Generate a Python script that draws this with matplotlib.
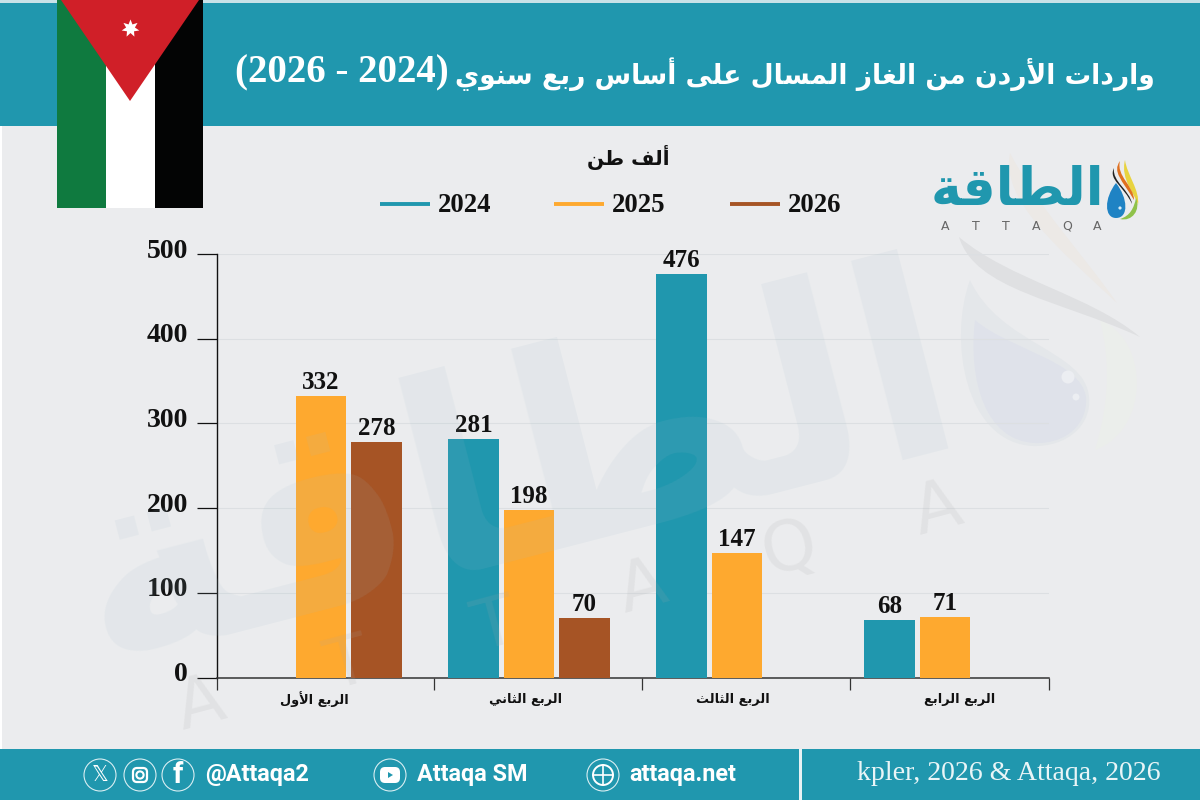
#!/usr/bin/env python3
"""Jordan LNG imports per quarter, 2024-2026 (thousand tonnes)."""
import unicodedata

import matplotlib
matplotlib.use("Agg")
import matplotlib.pyplot as plt
import matplotlib.transforms as mtrans
import numpy as np
from matplotlib.patches import Circle, FancyBboxPatch, PathPatch, Polygon, Rectangle
from matplotlib.path import Path

TEAL = "#2097ae"
ORANGE = "#fea92f"
BROWN = "#a65425"
BG = "#ebecee"
SERIF = "Liberation Serif"
ARABIC = "DejaVu Sans"

quarters = ["الربع الأول", "الربع الثاني", "الربع الثالث", "الربع الرابع"]
years = ["2024", "2025", "2026"]
imports_2024 = [np.nan, 281, 476, 68]
imports_2025 = [332, 198, 147, 71]
imports_2026 = [278, 70, np.nan, np.nan]
y_ticks = [0, 100, 200, 300, 400, 500]

title_ar = "واردات الأردن من الغاز المسال على أساس ربع سنوي"
title_years = "(2026 - 2024)"
unit_label = "ألف طن"
brand_ar = "الطاقة"
brand_en = "ATTAQA"
source = "kpler, 2026 & Attaqa, 2026"

NO_NEXT_JOIN = set("اأدذرزوةى")


def shape(text):
    """Contextual Arabic forms in visual order; matplotlib does no shaping itself."""
    words = []
    for word in text.split(" "):
        word = word.replace("لأ", "\ufff0")
        out = []
        for i, ch in enumerate(word):
            prev = word[i - 1] if i else None
            nxt = word[i + 1] if i + 1 < len(word) else None
            before = prev is not None and prev not in NO_NEXT_JOIN and prev != "\ufff0"
            if ch == "\ufff0":
                out.append("\ufef8" if before else "\ufef7")
                continue
            after = nxt is not None and ch not in NO_NEXT_JOIN
            kind = {(0, 0): "ISOLATED", (1, 0): "FINAL",
                    (0, 1): "INITIAL", (1, 1): "MEDIAL"}[(int(before), int(after))]
            out.append(unicodedata.lookup(f"{unicodedata.name(ch)} {kind} FORM"))
        words.append("".join(reversed(out)))
    return " ".join(reversed(words))


def blob(ax, pts, color, **kw):
    """Closed shape through cubic bezier segments: pts = start, then c1, c2, end triples."""
    codes = [Path.MOVETO] + [Path.CURVE4] * (len(pts) - 1)
    ax.add_patch(PathPatch(Path(pts, codes), facecolor=color, edgecolor="none", **kw))


def pixel_axes(zorder):
    a = fig.add_axes([0, 0, 1, 1], zorder=zorder)
    a.set_xlim(0, 1200)
    a.set_ylim(800, 0)
    a.axis("off")
    return a


fig = plt.figure(figsize=(12, 8), dpi=100, facecolor="white")

# full-figure layer in pixel units for the header, footer, flag and logo
bg = pixel_axes(0)
bg.add_patch(Rectangle((2, 0), 1198, 800, color=BG, lw=0))

# pale drop and swooshes on the right of the plot area
blob(bg, [(1100, 320), (1150, 340), (1150, 430), (1095, 450), (1110, 400), (1110, 360),
          (1100, 320)], "#ebeeeb")
blob(bg, [(1010, 153), (1000, 200), (1060, 250), (1117, 303), (1080, 250), (1040, 210),
          (1010, 153)], "#ece9e6")
blob(bg, [(959, 237), (975, 290), (1060, 300), (1140, 337), (1090, 295), (1010, 280),
          (959, 237)], "#dfe0e2")
blob(bg, [(970, 280), (948, 340), (965, 443), (1033, 446), (1067, 447), (1092, 425),
          (1089, 397), (1085, 350), (1000, 345), (970, 280)], "#e4e7ea")
blob(bg, [(975, 320), (968, 380), (985, 441), (1035, 443), (1065, 444), (1088, 425),
          (1086, 397), (1080, 360), (1010, 350), (975, 320)], "#dfe2ea")
bg.add_patch(Circle((1068, 377), 6.5, facecolor="#eceef2", edgecolor="none"))
bg.add_patch(Circle((1076, 397), 3.5, facecolor="#eceef2", edgecolor="none"))

# header and footer bands
bg.add_patch(Rectangle((0, 3), 1200, 123, color=TEAL, lw=0))
bg.add_patch(Rectangle((0, 0), 1200, 3, color="#c8e2e8", lw=0))
bg.add_patch(Rectangle((0, 749), 1200, 51, color=TEAL, lw=0))
bg.add_patch(Rectangle((799, 749), 3, 51, color="#e8f2f4", lw=0))

bg.text(1155, 74, shape(title_ar), family=ARABIC, weight="bold", fontsize=19.1,
        color="white", ha="right", va="center")
bg.text(235, 73, title_years, family=SERIF, weight="bold", fontsize=28,
        color="white", ha="left", va="center")

# flag
bg.add_patch(Rectangle((57, 0), 49, 208, color="#0f7a3f", lw=0))
bg.add_patch(Rectangle((106, 0), 49, 208, color="white", lw=0))
bg.add_patch(Rectangle((155, 0), 48, 208, color="#030404", lw=0))
bg.add_patch(Polygon([(61, 0), (199, 0), (130, 101)], color="#d01f28", lw=0))
bg.plot([130], [28], marker=(7, 1, 0), ms=13, color="white", mew=0)

# unit and legend
bg.text(628, 157, shape(unit_label), family=ARABIC, weight="bold", fontsize=14.5,
        color="#111111", ha="center", va="center")
for yr, col, x0 in zip(years, [TEAL, ORANGE, BROWN], [380, 554, 730]):
    bg.plot([x0, x0 + 50], [204, 204], color=col, lw=2.8, solid_capstyle="butt")
    bg.text(x0 + 58, 205, yr, family=SERIF, weight="bold", fontsize=19.3,
            color="#111111", ha="left", va="center")

# logo
bg.text(1017, 191, shape(brand_ar), family=ARABIC, weight="bold", fontsize=37.5,
        color=TEAL, ha="center", va="center")
for i, letter in enumerate(brand_en):
    bg.text(945 + i * 30.5, 226, letter, family=ARABIC, fontsize=9, color="#666666",
            ha="center", va="center")
blob(bg, [(1125, 160), (1127, 175), (1140, 190), (1138, 205), (1136, 195), (1120, 180),
          (1125, 160)], "#e8d33f")
blob(bg, [(1136, 198), (1141, 210), (1132, 222), (1120, 219), (1130, 216), (1134, 208),
          (1136, 198)], "#8fc24a")
blob(bg, [(1120, 161), (1112, 172), (1122, 180), (1134, 200), (1134, 186), (1116, 176),
          (1120, 161)], "#e0701f")
blob(bg, [(1114, 168), (1108, 180), (1124, 186), (1132, 204), (1130, 190), (1112, 182),
          (1114, 168)], "#222222")
blob(bg, [(1116, 183), (1104, 198), (1104, 218), (1116, 218), (1129, 218), (1128, 198),
          (1116, 183)], "#1f83c4")
bg.add_patch(Circle((1120, 208), 1.6, facecolor="#d5ecf8", edgecolor="none"))

# footer icons and handles
for cx in [100, 140, 178, 390, 603]:
    bg.add_patch(Circle((cx, 775), 16, facecolor="none", edgecolor="#d8eef2", lw=0.8))
bg.text(100, 775, "𝕏", family=ARABIC, fontsize=15, color="white", ha="center", va="center")
bg.add_patch(FancyBboxPatch((133, 768), 14, 14, boxstyle="round,pad=0,rounding_size=4",
                            facecolor="none", edgecolor="white", lw=1.6))
bg.add_patch(Circle((140, 775), 3.6, facecolor="none", edgecolor="white", lw=1.5))
bg.text(178, 775, "f", family="Roboto", weight="bold", fontsize=21, color="white",
        ha="center", va="center")
bg.add_patch(FancyBboxPatch((380, 767), 20, 16, boxstyle="round,pad=0,rounding_size=5",
                            facecolor="white", edgecolor="none"))
bg.add_patch(Polygon([(388, 772), (388, 778), (393, 775)], color=TEAL, lw=0))
bg.add_patch(Circle((603, 775), 10, facecolor="none", edgecolor="white", lw=1.4))
bg.plot([593, 613], [775, 775], color="white", lw=1.2)
bg.plot([603, 603], [765, 785], color="white", lw=1.2)
for label, x0 in [("@Attaqa2", 205), ("Attaqa SM", 417), ("attaqa.net", 629)]:
    bg.text(x0, 775, label, family="Roboto", weight="bold", fontsize=16.8, color="white",
            ha="left", va="center")
bg.text(1009, 773, source, family=SERIF, fontsize=20.1, color="#e9f5f7",
        ha="center", va="center")

# chart axes: one x unit is one quarter, spanning 208 px
ax = fig.add_axes([217 / 1200, 1 - 677.5 / 800, 832 / 1200, 423.5 / 800], zorder=1)
ax.patch.set_alpha(0)
ax.set_xlim(-0.5, 3.5)
ax.set_ylim(0, 500)

x = np.arange(len(quarters))
bar_w = 0.243
step = 0.267
series = [imports_2024, imports_2025, imports_2026]
for vals, col, off in zip(series, [TEAL, ORANGE, BROWN], [-step, 0, step]):
    vals = np.array(vals, dtype=float)
    keep = ~np.isnan(vals)
    bars = ax.bar(x[keep] + off, vals[keep], width=bar_w, color=col, zorder=3)
    ax.bar_label(bars, fmt="%d", padding=1.5, family=SERIF, weight="bold", fontsize=18,
                 color="#111111")

ax.set_axisbelow(True)
ax.grid(axis="y", color="#dcdfe2", lw=0.8)
ax.grid(axis="x", visible=False)
for side in ("top", "right"):
    ax.spines[side].set_visible(False)
ax.spines["left"].set_color("#111111")
ax.spines["bottom"].set_color("#333333")
ax.spines["left"].set_linewidth(1)
ax.spines["bottom"].set_linewidth(1.1)

ax.set_yticks(y_ticks)
ax.tick_params(axis="y", length=14.4, width=0.9, pad=6.5, color="#111111")
shift_up = mtrans.ScaledTranslation(0, 6 / 100, fig.dpi_scale_trans)
for lab in ax.get_yticklabels():
    lab.set_family(SERIF)
    lab.set_weight("bold")
    lab.set_fontsize(20)
    lab.set_color("#111111")
    lab.set_transform(lab.get_transform() + shift_up)

# quarter separators sit slightly right of the midpoints between groups
ax.set_xticks([-0.5, 0.543, 1.543, 2.543, 3.5])
ax.set_xticklabels([])
ax.tick_params(axis="x", length=8.5, width=0.9, color="#333333")
label_shift = [-0.03, -0.015, -0.02, 0.07]
for pos, name, dx in zip(x, quarters, label_shift):
    ax.text(pos + dx, -26, shape(name), family=ARABIC, weight="bold", fontsize=9.3,
            color="#111111", ha="center", va="center", clip_on=False)

# translucent brand watermark laid over the bars
wm = pixel_axes(2)
wm.text(515, 478, shape(brand_ar), family=ARABIC, weight="bold", fontsize=195,
        color="#a0bccc", alpha=0.11, rotation=14.5, ha="center", va="center",
        rotation_mode="anchor")
for i, letter in enumerate(brand_en):
    wm.text(200 + i * 147.4, 705 - i * 39, letter, family=ARABIC, fontsize=50,
            color="#a8a8a8", alpha=0.14, rotation=15, ha="center", va="center",
            rotation_mode="anchor")

fig.savefig("out.png", dpi=100, facecolor="white")
